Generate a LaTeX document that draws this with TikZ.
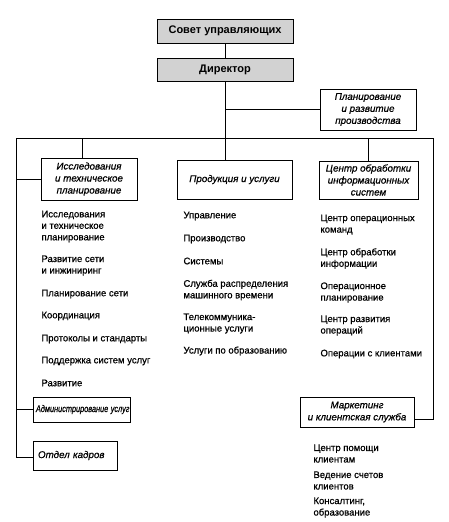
\documentclass[tikz,border=0pt]{standalone}
\usepackage{fontspec}
\setmainfont{Liberation Sans}
\newfontfamily\listfont[FakeBold=0.7]{Liberation Sans}
\newfontfamily\unitfont[FakeBold=0.6,ItalicFont={Liberation Sans Italic}]{Liberation Sans}
\usetikzlibrary{shadows}

\begin{document}
\begin{tikzpicture}[x=1pt,y=-1pt,line width=1pt,
		unit/.style={draw,fill=white,align=center,inner sep=2pt,
			font=\unitfont\itshape\fontsize{9.8}{12}\selectfont,
			drop shadow={shadow xshift=1.2pt,shadow yshift=-1.2pt,fill=black,opacity=1}},
		head/.style={unit,fill=gray!35,font=\bfseries\fontsize{11}{13}\selectfont},
		item/.style={anchor=west,align=left,inner sep=0pt,font=\listfont\fontsize{9.5}{11.5}\selectfont}]
		\useasboundingbox (0,0) rectangle (449,522);
		
		% Draw boxes
		\node[head,minimum width=136pt,minimum height=24pt] (sovet) at (225,31) {Совет управляющих};
		\node[head,minimum width=136pt,minimum height=23pt] (dir) at (225,69.5) {Директор};
		\node[unit,minimum width=96pt,minimum height=41pt] (plan) at (368,109.5) {Планирование\\и развитие\\производства};
		\node[unit,minimum width=96pt,minimum height=42pt] (issl) at (89,179) {Исследования\\и техническое\\планирование};
		\node[unit,minimum width=115pt,minimum height=39pt] (prod) at (234.5,179.5) {Продукция и услуги};
		\node[unit,minimum width=99pt,minimum height=38pt] (cent) at (368.5,180) {Центр обработки\\информационных\\систем};
		\node[unit,minimum width=97pt,minimum height=25pt,text width=91pt] (admin) at (81.5,409.5) {\scalebox{0.75}[1]{Администрирование услуг}};
		\node[unit,minimum width=84pt,minimum height=29pt,text width=76pt,align=left] (kadr) at (75,455.5) {\hspace{1pt}Отдел кадров};
		\node[unit,minimum width=114pt,minimum height=30pt] (mark) at (357,412) {Маркетинг\\и клиентская служба};
		
		% Draw lists
		\foreach \y/\t [count=\i] in {226.5/{Исследования\\и техническое\\планирование}, 265.5/{Развитие сети\\и инжиниринг},
			294/{Планирование сети}, 316/{Координация}, 339/{Протоколы и стандарты},
			361/{Поддержка систем услуг}, 383/{Развитие}}{
			\node[item] (left\i) at (41,\y) {\t};
		}
		\foreach \y/\t [count=\i] in {216/{Управление}, 239/{Производство}, 261/{Системы},
			290/{Служба распределения\\машинного времени}, 323.5/{Телекоммуника-\\ционные услуги},
			351/{Услуги по образованию}}{
			\node[item] (mid\i) at (183,\y) {\t};
		}
		\foreach \y/\t [count=\i] in {224.5/{Центр операционных\\команд}, 258.5/{Центр обработки\\информации},
			292.5/{Операционное\\планирование}, 325.5/{Центр развития\\операций}, 354/{Операции с клиентами}}{
			\node[item] (right\i) at (320,\y) {\t};
		}
		\foreach \y/\t [count=\i] in {453.5/{Центр помощи\\клиентам}, 480.5/{Ведение счетов\\клиентов},
			507.5/{Консалтинг,\\образование}}{
			\node[item] (mark\i) at (313,\y) {\t};
		}
		
		% Draw connectors
		\coordinate (L)  at (16,138);
		\coordinate (R)  at (433,138);
		\coordinate (b1) at (82,138);
		\draw (sovet) -- (dir);
		\draw (dir) -- (dir.south |- prod.north);
		\draw (dir.south |- plan.west) -- (plan.west);
		\draw (L) -- (R);
		\draw (b1) -- (b1 |- issl.north);
		\draw (R -| cent.north) -- (cent.north);
		\draw (L) |- ([yshift=-2pt]kadr.west);
		\draw (L |- issl.west) -- (issl.west) (L |- admin.west) -- (admin.west);
		\draw (R) |- ([yshift=-7pt]mark.east);
	\end{tikzpicture}
\end{document}
